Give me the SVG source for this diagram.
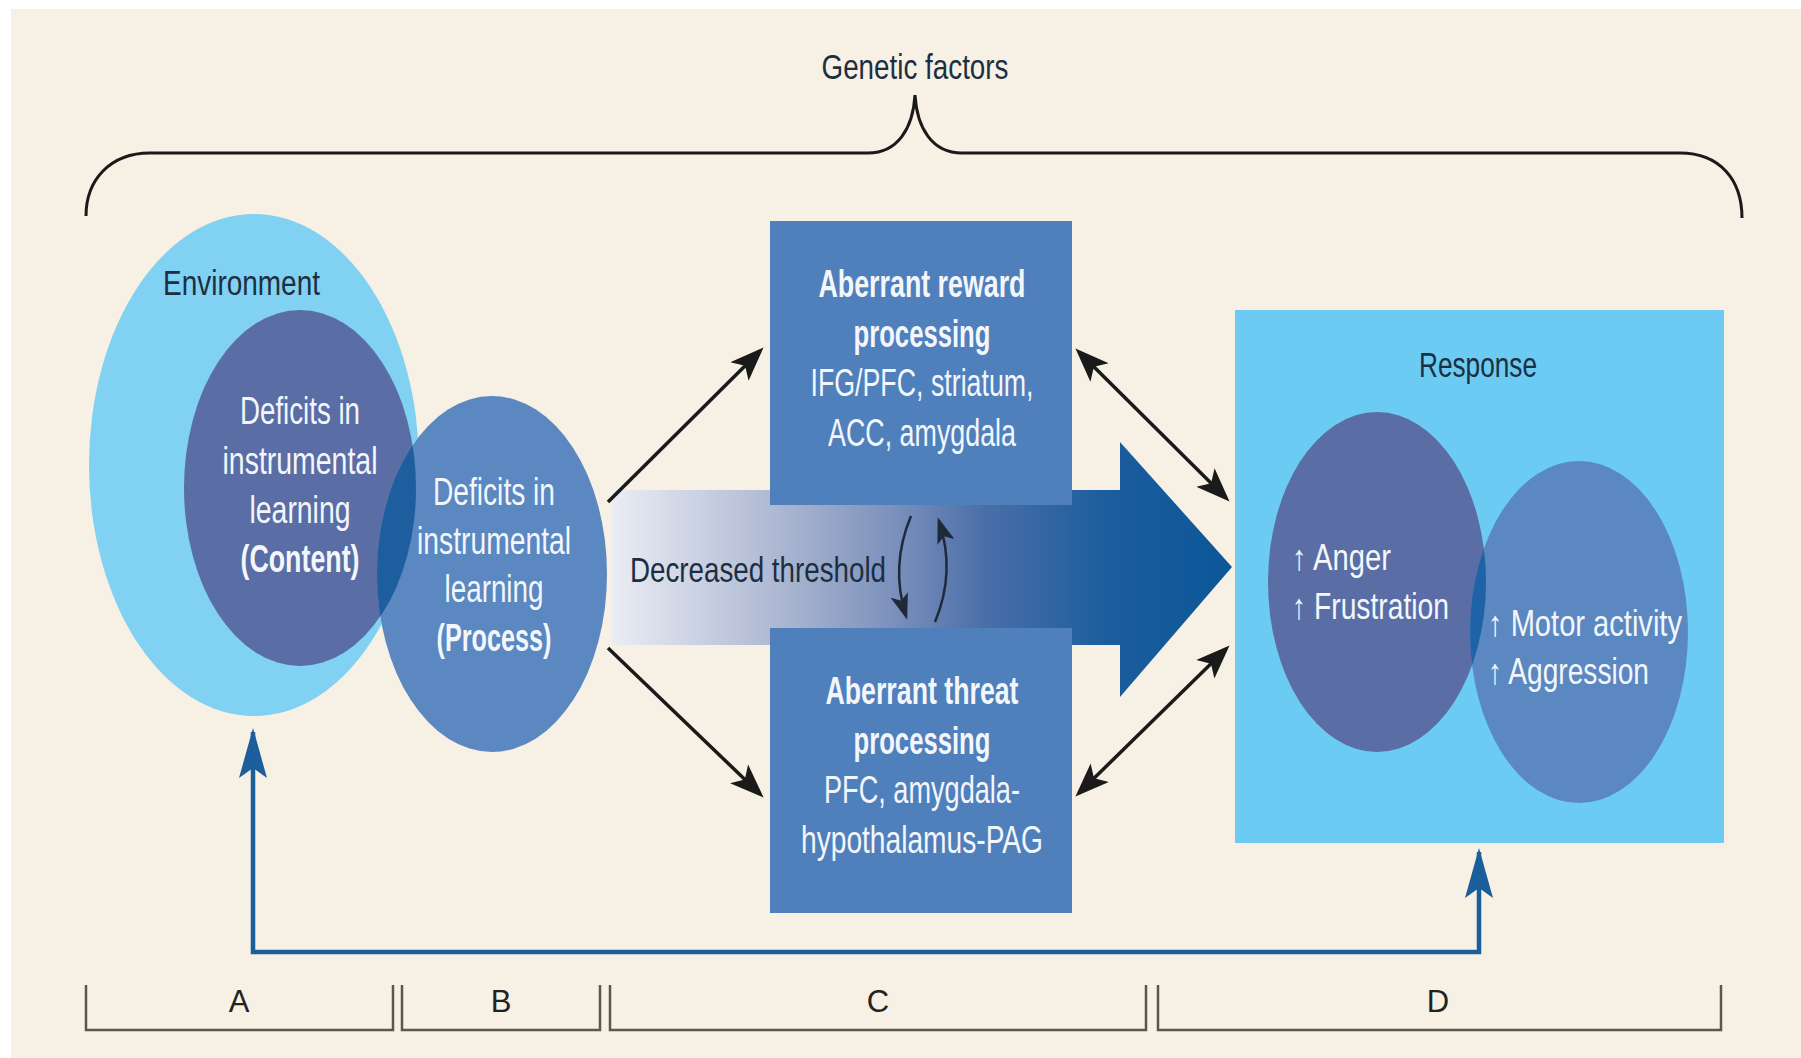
<svg xmlns="http://www.w3.org/2000/svg" width="1801" height="1058" viewBox="0 0 1801 1058">
<defs>
<style>
text{font-family:"Liberation Sans",Arial,sans-serif;}
.w{fill:#f3f6fb;font-size:38px;text-anchor:middle;}
.wb{fill:#f3f6fb;font-size:38px;font-weight:bold;text-anchor:middle;}
.wl{fill:#f3f6fb;font-size:36px;}
.d{fill:#1c2f42;font-size:35px;}
.lbl{fill:#222;font-size:31px;text-anchor:middle;}
.blk{stroke:#1a1a1a;stroke-width:3.5;fill:none;}
.cur{stroke:#1e2a3a;stroke-width:2.5;fill:none;}
.fb{stroke:#1b5e9c;stroke-width:4.5;fill:none;}
.br{stroke:#5a5650;stroke-width:2.5;fill:none;}
.brace{stroke:#1a1a1a;stroke-width:3;fill:none;}
.box{fill:#5080bb;}
.c1{fill:#5a6ea5;}
.c2{fill:#5b88c1;}
.ov{fill:#1f5e9e;}
</style>
<linearGradient id="thr" gradientUnits="userSpaceOnUse" x1="612" y1="0" x2="1232" y2="0">
<stop offset="0" stop-color="#eaedf4"/>
<stop offset="0.25" stop-color="#b1bbd4"/>
<stop offset="0.45" stop-color="#7d91bc"/>
<stop offset="0.6" stop-color="#4a6fa8"/>
<stop offset="0.8" stop-color="#1c5d9d"/>
<stop offset="1" stop-color="#0b5799"/>
</linearGradient>
<marker id="ah" markerUnits="userSpaceOnUse" markerWidth="34" markerHeight="28" viewBox="0 0 34 28" refX="29" refY="14" orient="auto-start-reverse">
<path d="M0,1 L34,14 L0,27 L8,14 z" fill="#1a1a1a"/>
</marker>
<marker id="ahs" markerUnits="userSpaceOnUse" markerWidth="26" markerHeight="18" viewBox="0 0 26 18" refX="22" refY="9" orient="auto-start-reverse">
<path d="M0,0 L26,9 L0,18 L6,9 z" fill="#1e2a3a"/>
</marker>
<marker id="ahb" markerUnits="userSpaceOnUse" markerWidth="50" markerHeight="28" viewBox="0 0 50 28" refX="46" refY="14" orient="auto-start-reverse">
<path d="M0,0 L50,14 L0,28 L10,14 z" fill="#1b5e9c"/>
</marker>
<clipPath id="clipProcess"><ellipse cx="492" cy="574" rx="115" ry="178"/></clipPath>
<clipPath id="clipMotor"><ellipse cx="1579" cy="632" rx="109" ry="171"/></clipPath>
</defs>

<rect x="0" y="0" width="1801" height="1058" fill="#ffffff"/>
<rect x="11" y="9" width="1790" height="1049" fill="#f7f0e4"/>

<g id="genetic-factors">
<path class="brace" d="M86,216 C86,180 110,153 150,153 L868,153 C898,153 913,128 915,95 C917,128 932,153 962,153 L1680,153 C1720,153 1742,180 1742,218"/>
<text x="915" y="79" class="d" text-anchor="middle" textLength="187" lengthAdjust="spacingAndGlyphs" fill="#222">Genetic factors</text>
</g>

<g id="environment">
<ellipse cx="254" cy="465" rx="165" ry="251" fill="#81d1f3"/>
<text x="163" y="295" class="d" textLength="157" lengthAdjust="spacingAndGlyphs">Environment</text>
</g>

<g id="content">
<ellipse class="c1" cx="300" cy="488" rx="116" ry="178"/>
</g>

<g id="process">
<ellipse class="c2" cx="492" cy="574" rx="115" ry="178"/>
<ellipse class="ov" cx="300" cy="488" rx="116" ry="178" clip-path="url(#clipProcess)"/>
<text x="300" y="424" class="w" textLength="120" lengthAdjust="spacingAndGlyphs">Deficits in</text>
<text x="300" y="474" class="w" textLength="155" lengthAdjust="spacingAndGlyphs">instrumental</text>
<text x="300" y="523" class="w" textLength="101" lengthAdjust="spacingAndGlyphs">learning</text>
<text x="300" y="572" class="wb" textLength="119" lengthAdjust="spacingAndGlyphs">(Content)</text>
<text x="494" y="505" class="w" textLength="122" lengthAdjust="spacingAndGlyphs">Deficits in</text>
<text x="494" y="554" class="w" textLength="154" lengthAdjust="spacingAndGlyphs">instrumental</text>
<text x="494" y="602" class="w" textLength="99" lengthAdjust="spacingAndGlyphs">learning</text>
<text x="494" y="651" class="wb" textLength="115" lengthAdjust="spacingAndGlyphs">(Process)</text>
</g>

<g id="threshold-arrow">
<path d="M612,490 H1120 V442 L1232,567 L1120,697 V645 H612 Z" fill="url(#thr)"/>
<text x="630" y="582" class="d" textLength="256" lengthAdjust="spacingAndGlyphs" fill="#24303e">Decreased threshold</text>
</g>

<g id="reward">
<rect class="box" x="770" y="221" width="302" height="284"/>
<text x="922" y="297" class="wb" textLength="207" lengthAdjust="spacingAndGlyphs">Aberrant reward</text>
<text x="922" y="347" class="wb" textLength="137" lengthAdjust="spacingAndGlyphs">processing</text>
<text x="922" y="396" class="w" textLength="223" lengthAdjust="spacingAndGlyphs">IFG/PFC, striatum,</text>
<text x="922" y="446" class="w" textLength="188" lengthAdjust="spacingAndGlyphs">ACC, amygdala</text>
</g>

<g id="threat">
<rect class="box" x="770" y="628" width="302" height="285"/>
<text x="922" y="704" class="wb" textLength="193" lengthAdjust="spacingAndGlyphs">Aberrant threat</text>
<text x="922" y="754" class="wb" textLength="137" lengthAdjust="spacingAndGlyphs">processing</text>
<text x="922" y="803" class="w" textLength="196" lengthAdjust="spacingAndGlyphs">PFC, amygdala-</text>
<text x="922" y="853" class="w" textLength="242" lengthAdjust="spacingAndGlyphs">hypothalamus-PAG</text>
</g>

<g id="response">
<rect x="1235" y="310" width="489" height="533" fill="#6ccbf3"/>
<text x="1478" y="377" class="d" text-anchor="middle" textLength="118" lengthAdjust="spacingAndGlyphs">Response</text>
<ellipse class="c1" cx="1377" cy="582" rx="109" ry="170"/>
<ellipse class="c2" cx="1579" cy="632" rx="109" ry="171"/>
<ellipse cx="1377" cy="582" rx="109" ry="170" fill="#1e63a6" clip-path="url(#clipMotor)"/>
<text x="1292" y="570" class="wl" textLength="99" lengthAdjust="spacingAndGlyphs">↑ Anger</text>
<text x="1292" y="619" class="wl" textLength="157" lengthAdjust="spacingAndGlyphs">↑ Frustration</text>
<text x="1488" y="636" class="wl" textLength="194" lengthAdjust="spacingAndGlyphs">↑ Motor activity</text>
<text x="1488" y="684" class="wl" textLength="161" lengthAdjust="spacingAndGlyphs">↑ Aggression</text>
</g>

<g id="connectors">
<path class="blk" d="M608,502 L760,351" marker-end="url(#ah)"/>
<path class="blk" d="M608,648 L760,794" marker-end="url(#ah)"/>
<path class="blk" d="M1079,352 L1226,498" marker-start="url(#ah)" marker-end="url(#ah)"/>
<path class="blk" d="M1079,793 L1226,649" marker-start="url(#ah)" marker-end="url(#ah)"/>
<path class="cur" d="M911,516 Q890,566 906,616" marker-end="url(#ahs)"/>
<path class="cur" d="M935,622 Q956,572 939,521" marker-end="url(#ahs)"/>
<path class="fb" d="M253,732 V952 H1479 V852" marker-start="url(#ahb)" marker-end="url(#ahb)"/>
</g>

<g id="stages">
<path class="br" d="M86,985 V1030 H393 V985"/>
<path class="br" d="M402,985 V1030 H600 V985"/>
<path class="br" d="M610,985 V1030 H1146 V985"/>
<path class="br" d="M1158,985 V1030 H1721 V985"/>
<text x="239" y="1012" class="lbl">A</text>
<text x="501" y="1012" class="lbl">B</text>
<text x="878" y="1012" class="lbl">C</text>
<text x="1438" y="1012" class="lbl">D</text>
</g>
</svg>
